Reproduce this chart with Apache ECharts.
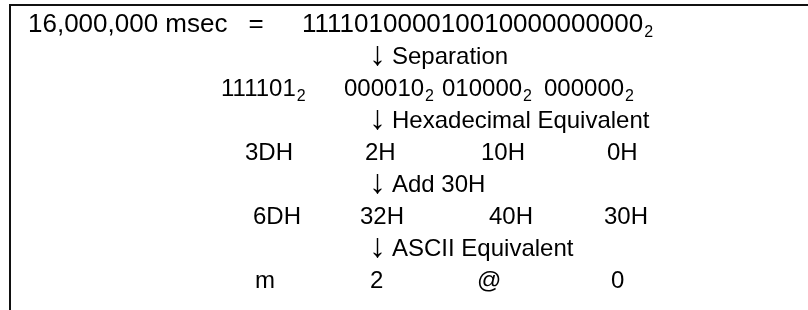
<!DOCTYPE html>
<html>
<head>
<meta charset="utf-8">
<script src="https://cdn.jsdelivr.net/npm/echarts@6/dist/echarts.min.js"></script>
<style>
  html, body { margin: 0; padding: 0; background: #fff; }
  #chart { width: 808px; height: 310px; }
</style>
</head>
<body>
<div id="chart"></div>
<script>
// values shown in the diagram
const total = '16,000,000 msec';
const binary = '111101000010010000000000';
const groups = ['111101', '000010', '010000', '000000'];
const hexVals = ['3DH', '2H', '10H', '0H'];
const addVals = ['6DH', '32H', '40H', '30H'];
const asciiVals = ['m', '2', '@', '0'];
const steps = ['Separation', 'Hexadecimal Equivalent', 'Add 30H', 'ASCII Equivalent'];

// layout (left edge of each column, per row)
const groupX = [221, 344, 442, 544];
const hexX = [245, 365, 481, 607];
const addX = [253, 360, 489, 604];
const asciiX = [255, 370, 477, 611];
const stepX = 369;
const rowTop = 25;
const rowGap = 32;

const FONT = "'Liberation Sans', Arial, sans-serif";
const INK = '#000';

const rowY = i => rowTop + rowGap * i;

const chart = echarts.init(document.getElementById('chart'));

const textEl = (txt, x, y, size, extra) => ({
  type: 'text',
  style: Object.assign({
    text: txt,
    x: x,
    y: y,
    fill: INK,
    fontFamily: FONT,
    fontSize: size,
    align: 'left',
    verticalAlign: 'middle'
  }, extra || {})
});

const subRich = size => ({
  v: { fontFamily: FONT, fontSize: size, fill: INK, lineHeight: 32 },
  s: { fontFamily: FONT, fontSize: 16, fill: INK, lineHeight: 19, verticalAlign: 'bottom', padding: [0, 0, 0, 1] }
});

const stepRich = {
  a: { fontFamily: FONT, fontSize: 34, fill: INK, lineHeight: 32, verticalAlign: 'bottom' },
  t: { fontFamily: FONT, fontSize: 24, fill: INK, lineHeight: 32, padding: [0, 0, 0, 6] }
};

const elements = [];

// frame (top and left edges only)
elements.push({
  type: 'polyline',
  shape: { points: [[10, 310], [10, 5], [808, 5]] },
  style: { stroke: '#111', lineWidth: 2, fill: null }
});

// first row
elements.push(textEl(total, 28, rowY(0), 26));
elements.push(textEl('=', 256, rowY(0), 26, { align: 'center' }));
elements.push(textEl('{v|' + binary + '}{s|2}', 302, rowY(0), 26, { rich: subRich(26) }));

// step labels between rows
steps.forEach((s, i) => {
  elements.push(textEl('{a|\u2193}{t|' + s + '}', stepX, rowY(1 + i * 2), 24, { rich: stepRich }));
});

// value rows
groups.forEach((g, i) => {
  elements.push(textEl('{v|' + g + '}{s|2}', groupX[i], rowY(2), 24, { rich: subRich(24) }));
});
hexVals.forEach((t, i) => elements.push(textEl(t, hexX[i], rowY(4), 24)));
addVals.forEach((t, i) => elements.push(textEl(t, addX[i], rowY(6), 24)));
asciiVals.forEach((t, i) => elements.push(textEl(t, asciiX[i], rowY(8), 24)));

chart.setOption({
  backgroundColor: '#fff',
  animation: false,
  graphic: elements
});

window.addEventListener('resize', () => chart.resize());
</script>
</body>
</html>
